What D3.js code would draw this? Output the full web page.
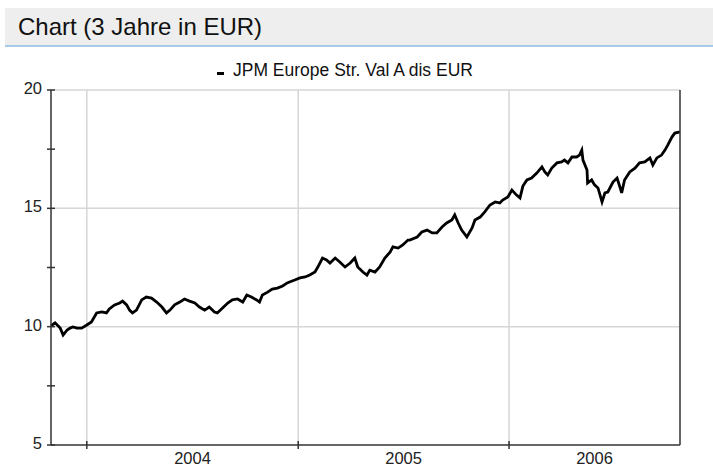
<!DOCTYPE html>
<html><head><meta charset="utf-8">
<script src="https://cdn.jsdelivr.net/npm/d3@7"></script>
<style>body{margin:0;background:#fff;}svg{display:block;font-family:Arial,"Liberation Sans",sans-serif;}</style>
</head><body>
<script>
const title = "Chart (3 Jahre in EUR)";
const seriesName = "JPM Europe Str. Val A dis EUR";
const dates = ["2003-10-31","2003-11-07","2003-11-16","2003-11-21","2003-11-28","2003-12-03","2003-12-08","2003-12-15","2003-12-23",
"2004-01-01","2004-01-09","2004-01-18","2004-01-27","2004-02-04","2004-02-09","2004-02-18","2004-02-27","2004-03-03","2004-03-10",
"2004-03-15","2004-03-20","2004-03-27","2004-04-05","2004-04-13","2004-04-22","2004-05-01","2004-05-10","2004-05-18","2004-05-24",
"2004-06-01","2004-06-10","2004-06-18","2004-06-27","2004-07-06","2004-07-14","2004-07-23","2004-07-31","2004-08-09","2004-08-14",
"2004-08-23","2004-09-01","2004-09-09","2004-09-18","2004-09-27","2004-10-04","2004-10-12","2004-10-21","2004-10-26","2004-10-31",
"2004-11-09","2004-11-17","2004-11-26","2004-12-05","2004-12-13","2004-12-17","2004-12-26",
"2005-01-04","2005-01-13","2005-01-21","2005-01-30","2005-02-04","2005-02-12","2005-02-19","2005-02-25","2005-03-06","2005-03-14",
"2005-03-23","2005-04-01","2005-04-09","2005-04-14","2005-04-23","2005-04-30","2005-05-05","2005-05-14","2005-05-22","2005-05-31",
"2005-06-09","2005-06-14","2005-06-23","2005-07-01","2005-07-10","2005-07-13","2005-07-26","2005-08-03","2005-08-12","2005-08-21",
"2005-08-29","2005-09-07","2005-09-15","2005-09-24","2005-09-29","2005-10-05","2005-10-11","2005-10-20","2005-10-29","2005-11-03",
"2005-11-12","2005-11-20","2005-11-29","2005-12-08","2005-12-16","2005-12-21","2005-12-30",
"2006-01-06","2006-01-14","2006-01-20","2006-01-25","2006-02-01","2006-02-09","2006-02-18","2006-02-27","2006-03-04","2006-03-09",
"2006-03-16","2006-03-25","2006-04-02","2006-04-07","2006-04-13","2006-04-20","2006-04-28","2006-05-03","2006-05-07","2006-05-09",
"2006-05-16","2006-05-17","2006-05-24","2006-05-29","2006-06-04","2006-06-11","2006-06-16","2006-06-21","2006-06-30","2006-07-07",
"2006-07-12","2006-07-15","2006-07-20","2006-07-29","2006-08-07","2006-08-15","2006-08-24","2006-09-02","2006-09-07","2006-09-14",
"2006-09-22","2006-09-28","2006-10-03","2006-10-10","2006-10-15","2006-10-24"];
const values = [10.03,10.16,9.94,9.65,9.86,9.94,9.99,9.94,9.94,
10.07,10.20,10.58,10.62,10.58,10.75,10.92,11.00,11.08,10.92,
10.70,10.58,10.70,11.13,11.25,11.21,11.04,10.83,10.58,10.70,
10.92,11.04,11.17,11.08,11.00,10.83,10.70,10.83,10.62,10.58,
10.79,11.00,11.13,11.17,11.04,11.34,11.25,11.13,11.04,11.34,
11.46,11.59,11.63,11.72,11.85,11.89,11.97,
12.06,12.10,12.18,12.31,12.52,12.90,12.82,12.69,12.90,12.73,
12.52,12.69,12.90,12.52,12.31,12.18,12.39,12.31,12.52,12.90,
13.15,13.37,13.32,13.45,13.66,13.66,13.79,14.00,14.08,13.96,
13.96,14.21,14.38,14.51,14.72,14.38,14.08,13.79,14.17,14.51,
14.63,14.85,15.14,15.27,15.23,15.35,15.48,
15.77,15.56,15.44,15.94,16.20,16.28,16.49,16.75,16.54,16.41,
16.70,16.92,16.96,17.04,16.92,17.17,17.17,17.25,17.46,17.04,
16.62,16.07,16.20,15.99,15.86,15.27,15.65,15.69,16.11,16.28,
15.90,15.65,16.20,16.54,16.70,16.92,16.96,17.13,16.83,17.13,
17.25,17.46,17.68,18.01,18.18,18.23];
const yTicksMajor = [5,10,15,20];
const yTicksMinor = [5,7.5,10,12.5,15,17.5,20];
const yearTicks = ["2004-01-01","2005-01-01","2006-01-01"];
const yearLabels = ["2004","2005","2006"];

const W = 713, H = 466;
const parse = d3.timeParse("%Y-%m-%d");
const data = dates.map((d,i)=>({date:parse(d), value:values[i]}));
const L = 51, R = 680, T = 90, B = 445;

const svg = d3.select("body").append("svg").attr("width",W).attr("height",H);

// header
svg.append("rect").attr("x",5).attr("y",8).attr("width",W-5).attr("height",37).attr("fill","#eeeeee");
svg.append("rect").attr("x",5).attr("y",45).attr("width",W-5).attr("height",2).attr("fill","#a9cbea");
svg.append("text").attr("x",18).attr("y",35).attr("font-size",24).attr("fill","#111").text(title);

// legend
svg.append("rect").attr("x",217).attr("y",72).attr("width",7).attr("height",3).attr("fill","#000");
svg.append("text").attr("x",233).attr("y",76).attr("font-size",17.5).attr("fill","#111").text(seriesName);

const x = d3.scaleTime().domain([data[0].date, data[data.length-1].date]).range([L,R]);
const y = d3.scaleLinear().domain([5,20]).range([B,T]);

// grid
const yearDates = yearTicks.map(parse);
svg.append("g").selectAll("line").data(yearDates).join("line")
  .attr("x1",d=>x(d)).attr("x2",d=>x(d)).attr("y1",T).attr("y2",B)
  .attr("stroke","#d6d6d6").attr("stroke-width",1.5);
svg.append("g").selectAll("line").data(yTicksMajor.filter(v=>v>5)).join("line")
  .attr("x1",L).attr("x2",R).attr("y1",d=>y(d)).attr("y2",d=>y(d))
  .attr("stroke","#d6d6d6").attr("stroke-width",1.5);

// line
svg.append("path").datum(data)
  .attr("d", d3.line().x(d=>x(d.date)).y(d=>y(d.value)))
  .attr("fill","none").attr("stroke","#000").attr("stroke-width",2.8).attr("stroke-linejoin","miter");

// axes frame
svg.append("line").attr("x1",L).attr("x2",L).attr("y1",T).attr("y2",B).attr("stroke","#333").attr("stroke-width",1.5);
svg.append("line").attr("x1",L).attr("x2",R).attr("y1",B).attr("y2",B).attr("stroke","#333").attr("stroke-width",1.5);
svg.append("line").attr("x1",R).attr("x2",R).attr("y1",T).attr("y2",B).attr("stroke","#333").attr("stroke-width",1.5);

// y ticks
svg.append("g").selectAll("line").data(yTicksMinor).join("line")
  .attr("x1",L-4).attr("x2",L+4).attr("y1",d=>y(d)).attr("y2",d=>y(d))
  .attr("stroke","#333").attr("stroke-width",1.5);
svg.append("g").selectAll("text").data(yTicksMajor).join("text")
  .attr("x",42).attr("y",d=>y(d)+4).attr("text-anchor","end")
  .attr("font-size",16.5).attr("fill","#222").text(d=>d);

// x ticks
svg.append("g").selectAll("line").data(yearDates).join("line")
  .attr("x1",d=>x(d)).attr("x2",d=>x(d)).attr("y1",B-4).attr("y2",B+4)
  .attr("stroke","#333").attr("stroke-width",1.5);
const bounds = [...yearDates, data[data.length-1].date];
svg.append("g").selectAll("text").data(yearLabels).join("text")
  .attr("x",(d,i)=>(x(bounds[i])+x(bounds[i+1]))/2).attr("y",464)
  .attr("text-anchor","middle").attr("font-size",16.5).attr("fill","#222").text(d=>d);
</script>
</body></html>
